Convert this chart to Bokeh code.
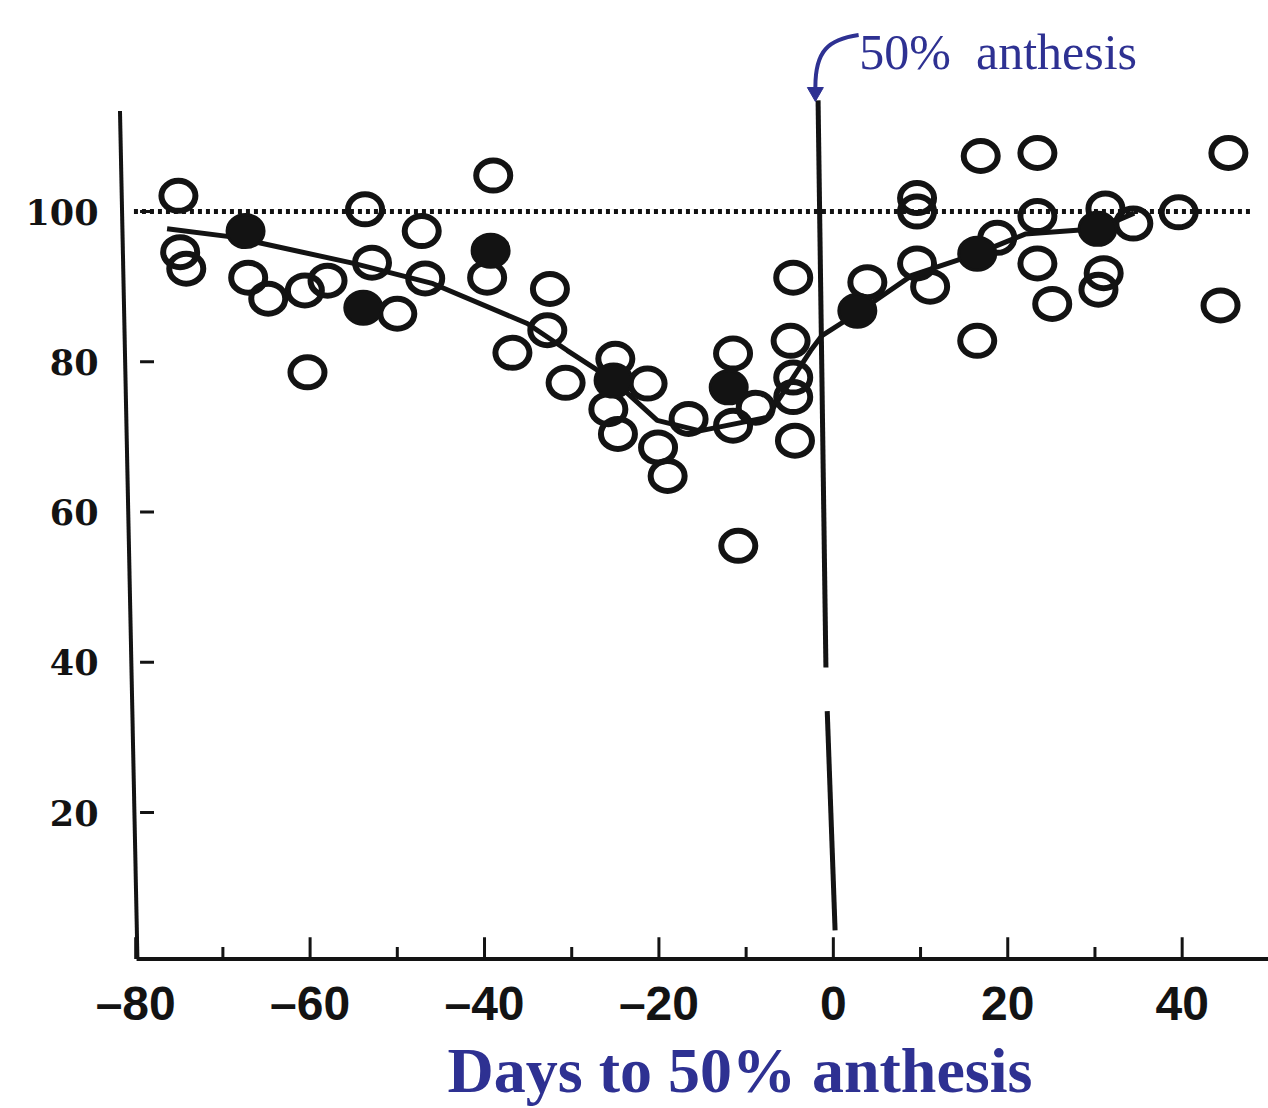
from bokeh.plotting import figure
from bokeh.models import Range1d, FixedTicker, Title
from bokeh.core.properties import value
from bokeh.embed import file_html
from bokeh.resources import INLINE

# ---------------- data ----------------
open_x = [-75.1, -74.9, -74.2, -67.1, -64.8, -60.6, -58.0, -60.3, -53.7, -52.9,
          -50.0, -47.2, -46.8, -39.0, -39.7, -32.5, -32.8, -36.8, -30.7, -25.0,
          -21.3, -25.8, -24.7, -20.1, -19.0, -16.6, -11.5, -11.5, -8.9, -4.6,
          -4.9, -4.6, -4.6, -4.4, -10.9, 3.9, 9.6, 9.6, 9.6, 11.1,
          16.9, 23.4, 16.5, 18.8, 23.4, 23.4, 25.1, 31.2, 31.0, 30.4,
          34.4, 39.6, 45.3, 44.4]
open_y = [102.1, 94.6, 92.4, 91.2, 88.4, 89.5, 90.8, 78.6, 100.3, 93.2,
          86.4, 97.4, 91.1, 104.8, 91.2, 89.7, 84.2, 81.2, 77.2, 80.4,
          77.1, 73.7, 70.4, 68.6, 64.8, 72.4, 81.1, 71.5, 73.9, 91.2,
          82.8, 77.9, 75.3, 69.5, 55.5, 90.6, 101.8, 100.0, 93.1, 90.0,
          107.4, 107.8, 82.8, 96.5, 99.4, 93.1, 87.7, 100.4, 91.8, 89.6,
          98.4, 99.9, 107.8, 87.5]

filled_x = [-67.4, -53.9, -39.3, -25.2, -12.0, 2.75, 16.5, 30.3]
filled_y = [97.4, 87.2, 94.8, 77.5, 76.6, 86.8, 94.4, 97.7]

trend_x = [-76.4, -68.8, -55.0, -45.9, -35.1, -30.5, -25.2, -20.2, -15.3,
           -7.6, -2.6, -1.3, 2.75, 9.0, 16.5, 22.0, 30.3, 34.5]
trend_y = [97.7, 96.6, 93.1, 90.4, 85.1, 81.5, 77.5, 72.2, 70.8,
           72.6, 81.5, 83.5, 86.5, 91.5, 94.4, 97.0, 97.7, 99.8]

x_ticks = [-80, -60, -40, -20, 0, 20, 40]
x_tick_labels = ["\u201380", "\u201360", "\u201340", "\u201320", "0", "20", "40"]
x_minor = [-70, -50, -30, -10, 10, 30]
y_ticks = [20, 40, 60, 80, 100]
y_tick_labels = ["20", "40", "60", "80", "100"]
reference_level = 100

x_title = "Days to 50% anthesis"
note_text = "50%\u00a0 anthesis"

INK = "#131313"
BLUE = "#2e3192"

# ---------------- figure ----------------
p = figure(width=1268, height=1108,
           x_range=Range1d(-82.2, 49.9), y_range=Range1d(-0.5, 128.1),
           output_backend="svg", toolbar_location=None,
           min_border_left=116, min_border_right=0, min_border_top=0,
           min_border_bottom=142)
p.outline_line_color = None
p.grid.visible = False
p.background_fill_color = "white"
p.border_fill_color = "white"

xa = p.xaxis[0]
xa.ticker = FixedTicker(ticks=x_ticks)
xa.major_label_overrides = {t: s for t, s in zip(x_ticks, x_tick_labels)}
xa.axis_line_color = None
xa.major_tick_line_color = None
xa.minor_tick_line_color = None
xa.major_label_text_font = "Liberation Sans"
xa.major_label_text_font_style = "bold"
xa.major_label_text_font_size = "48px"
xa.major_label_text_color = INK
xa.major_label_standoff = 4

ya = p.yaxis[0]
ya.ticker = FixedTicker(ticks=y_ticks)
ya.major_label_overrides = {t: s for t, s in zip(y_ticks, y_tick_labels)}
ya.axis_line_color = None
ya.major_tick_line_color = None
ya.minor_tick_line_color = None
ya.major_label_text_font = "DejaVu Serif"
ya.major_label_text_font_style = "bold"
ya.major_label_text_font_size = "35px"
ya.major_label_text_color = INK
ya.major_label_standoff = 12

title = Title(text=x_title, align="left", offset=331, standoff=0,
              text_font="Liberation Serif", text_font_style="bold",
              text_font_size="64px", text_color=BLUE)
p.add_layout(title, "below")

# axes lines (scanned, slightly skewed y axis)
p.segment(x0=[-81.8], y0=[113.4], x1=[-79.8], y1=[0.5], line_color=INK, line_width=4)
p.segment(x0=[-79.9], y0=[0.5], x1=[49.9], y1=[0.5], line_color=INK, line_width=4)
# ticks
p.segment(x0=x_ticks, y0=[0.5] * len(x_ticks), x1=x_ticks, y1=[3.4] * len(x_ticks),
          line_color=INK, line_width=3)
p.segment(x0=x_minor, y0=[0.5] * len(x_minor), x1=x_minor, y1=[2.1] * len(x_minor),
          line_color=INK, line_width=3)
p.segment(x0=[-79.5] * len(y_ticks), y0=y_ticks, x1=[-77.9] * len(y_ticks), y1=y_ticks,
          line_color=INK, line_width=3)

# reference level (dotted)
p.segment(x0=[-80.2], y0=[reference_level], x1=[47.9], y1=[reference_level],
          line_color=INK, line_width=5, line_dash="4 4")

# 50% anthesis line (broken)
p.segment(x0=[-1.75, -0.7], y0=[114.8, 33.5], x1=[-0.85, 0.2], y1=[39.3, 4.3],
          line_color=INK, line_width=5)

# trend line
p.line(trend_x, trend_y, line_color=INK, line_width=5)

# open circles
p.ellipse(x=open_x, y=open_y, width=34, height=30,
          width_units="screen", height_units="screen",
          fill_color=None, line_color=INK, line_width=6)
# filled circles
p.ellipse(x=filled_x, y=filled_y, width=37, height=33,
          width_units="screen", height_units="screen",
          fill_color=INK, line_color=INK, line_width=3)

# annotation
p.bezier(x0=[2.9], y0=[123.5], x1=[-2.06], y1=[116.6],
         cx0=[-0.6], cy0=[122.9], cx1=[-2.06], cy1=[121.4],
         line_color=BLUE, line_width=4)
p.scatter(x=[-2.06], y=[115.9], marker="inverted_triangle", size=16,
          fill_color=BLUE, line_color=BLUE)
p.text(x=[2.98], y=[121.2], text=[note_text], text_font=value("Liberation Serif"),
       text_font_size="50px", text_color=BLUE, text_baseline="alphabetic",
       text_align="left")

open("out.html", "w").write(file_html(p, INLINE))
